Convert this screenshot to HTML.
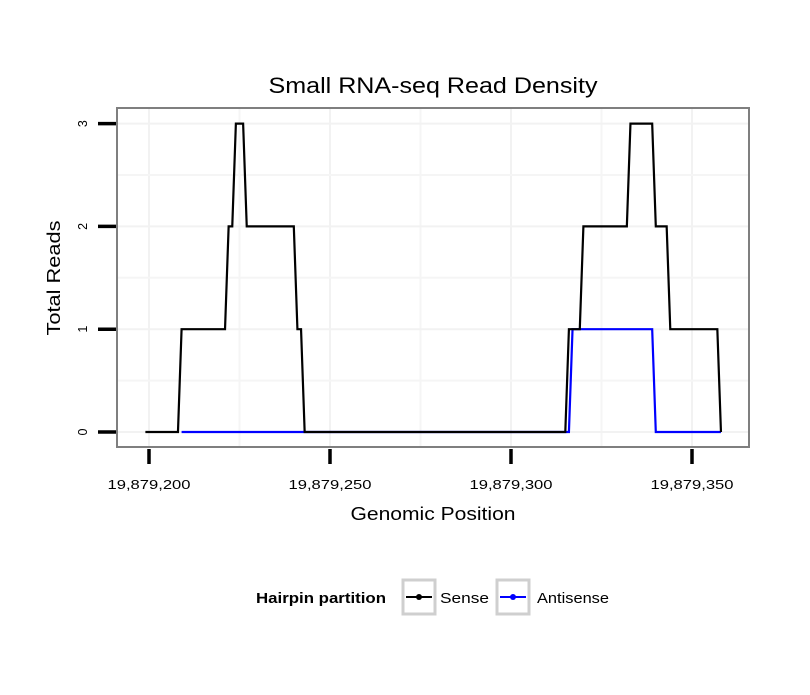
<!DOCTYPE html>
<html><head><meta charset="utf-8"><style>
body{margin:0;background:#fff;font-family:"Liberation Sans",sans-serif}
</style></head><body>
<svg id="c" width="810" height="690" xmlns="http://www.w3.org/2000/svg"></svg>
<script>
const xTicks=[19879200,19879250,19879300,19879350];
const xTickLabels=["19,879,200","19,879,250","19,879,300","19,879,350"];
const yTicks=[0,1,2,3];
const senseX=[19879199,19879208,19879209,19879221,19879222,19879223,19879224,19879226,19879227,19879240,19879241,19879242,19879243,19879315,19879316,19879319,19879320,19879332,19879333,19879339,19879340,19879343,19879344,19879357,19879358];
const senseY=[0,0,1,1,2,2,3,3,2,2,1,1,0,0,1,1,2,2,3,3,2,2,1,1,0];
const antiX=[19879209,19879316,19879317,19879339,19879340,19879358];
const antiY=[0,0,1,1,0,0];
const NS="http://www.w3.org/2000/svg";
const svg=document.getElementById('c');
const L=117,R=749,T=108,B=447;
const sx=v=>149+(v-19879200)*181/50;
const sy=v=>432-v*102.8;
function el(t,a,txt){const e=document.createElementNS(NS,t);for(const k in a)e.setAttribute(k,a[k]);if(txt!=null)e.textContent=txt;svg.appendChild(e);return e;}
for(let i=0;i<xTicks.length;i++){
 const g=el('line',{x1:sx(xTicks[i]),x2:sx(xTicks[i]),y1:T,y2:B,stroke:'#f2f2f2','stroke-width':2});
 
 if(i<xTicks.length-1){const m=(xTicks[i]+xTicks[i+1])/2;
 const g2=el('line',{x1:sx(m),x2:sx(m),y1:T,y2:B,stroke:'#f5f5f5','stroke-width':2});
 }
}
for(let i=0;i<yTicks.length;i++){
 const g=el('line',{x1:L,x2:R,y1:sy(yTicks[i]),y2:sy(yTicks[i]),stroke:'#f2f2f2','stroke-width':2});
 
 if(i<yTicks.length-1){const m=(yTicks[i]+yTicks[i+1])/2;
 const g2=el('line',{x1:L,x2:R,y1:sy(m),y2:sy(m),stroke:'#f5f5f5','stroke-width':2});
 }
}
function series(xs,ys,col,name){
 const p=el('polyline',{points:xs.map((x,i)=>sx(x)+','+sy(ys[i])).join(' '),fill:'none',stroke:col,'stroke-width':2.2,'stroke-linejoin':'miter'});
 
}
series(antiX,antiY,'#0000ff','antisense-line');
series(senseX,senseY,'#000','sense-line');
const br=el('rect',{x:L,y:T,width:R-L,height:B-T,fill:'none',stroke:'#7f7f7f','stroke-width':2});

for(let i=0;i<xTicks.length;i++){
 const t=el('line',{x1:sx(xTicks[i]),x2:sx(xTicks[i]),y1:449,y2:464,stroke:'#000','stroke-width':3.5});
 
 const lb=el('text',{x:sx(xTicks[i]),y:489,'text-anchor':'middle','font-size':13,textLength:83,lengthAdjust:'spacingAndGlyphs',fill:'#000'},xTickLabels[i]);
 
}
for(let i=0;i<yTicks.length;i++){
 const t=el('line',{x1:98,x2:116,y1:sy(yTicks[i]),y2:sy(yTicks[i]),stroke:'#000','stroke-width':3.5});
 
 const y=sy(yTicks[i]);
 const lb=el('text',{x:87,y:y,'text-anchor':'middle','font-size':12.5,transform:`rotate(-90 87 ${y})`},String(yTicks[i]));
 
}
</script>
<svg width="810" height="690" style="position:absolute;left:0;top:0" xmlns="http://www.w3.org/2000/svg">
<text x="433" y="93" text-anchor="middle" font-size="22" textLength="329" lengthAdjust="spacingAndGlyphs" font-family="Liberation Sans">Small RNA-seq Read Density</text>
<text x="433" y="520" text-anchor="middle" font-size="18" textLength="165" lengthAdjust="spacingAndGlyphs" font-family="Liberation Sans">Genomic Position</text>
<text x="60" y="278" text-anchor="middle" font-size="18" textLength="115" lengthAdjust="spacingAndGlyphs" font-family="Liberation Sans" transform="rotate(-90 60 278)">Total Reads</text>
<g font-family="Liberation Sans" font-size="15">
<text x="256" y="603" font-weight="bold" textLength="130" lengthAdjust="spacingAndGlyphs">Hairpin partition</text>
<g>
<rect x="403" y="580" width="32" height="34" fill="#fff" stroke="#cfcfcf" stroke-width="3"/>
<line x1="406" x2="432" y1="597" y2="597" stroke="#000" stroke-width="2"/>
<circle cx="419" cy="597" r="3" fill="#000"/>
<text x="440" y="603" textLength="49" lengthAdjust="spacingAndGlyphs">Sense</text></g>
<g>
<rect x="497" y="580" width="32" height="34" fill="#fff" stroke="#cfcfcf" stroke-width="3"/>
<line x1="500" x2="526" y1="597" y2="597" stroke="#0000ff" stroke-width="2"/>
<circle cx="513" cy="597" r="3" fill="#0000ff"/>
<text x="537" y="603" textLength="72" lengthAdjust="spacingAndGlyphs">Antisense</text></g>
</g>
</svg>
</body></html>
